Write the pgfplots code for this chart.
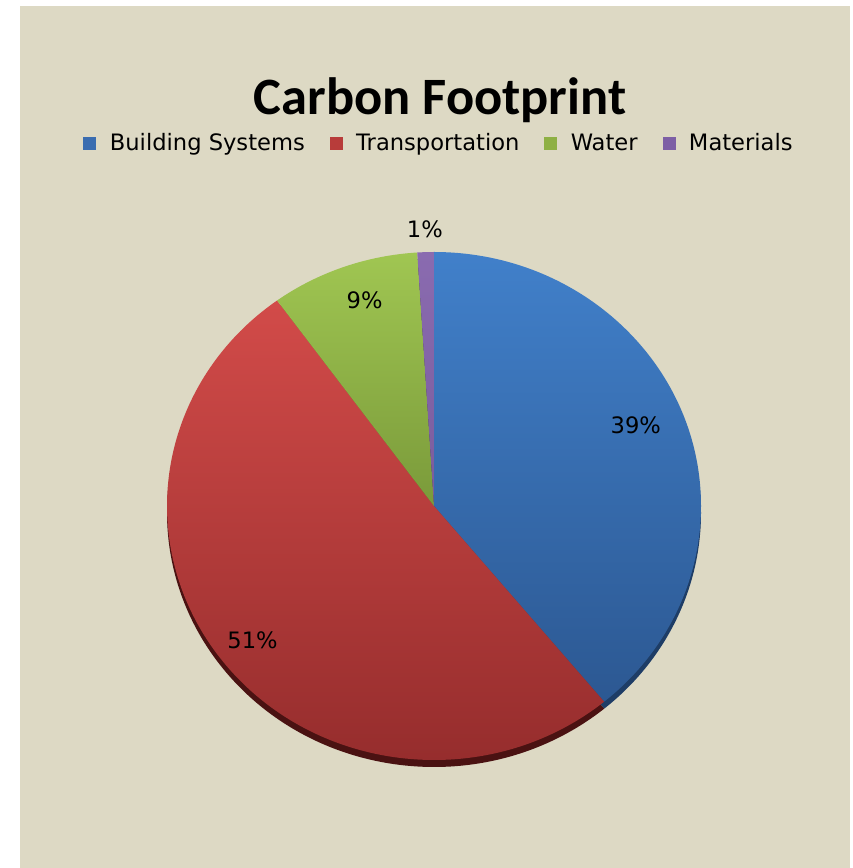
\documentclass[border=0pt]{standalone}
\usepackage{pgfplots}
\pgfplotsset{compat=1.18}
\usepackage{pgfplotstable}
\usepackage{fontspec}
\setmainfont{DejaVu Sans}
\newfontfamily\titlefont{Carlito}
\definecolor{bg}{HTML}{DDD9C4}
\definecolor{bsT}{HTML}{4180CA}
\definecolor{bsB}{HTML}{2C5892}
\definecolor{bsS}{HTML}{1E3D66}
\definecolor{bsM}{HTML}{3A6DB0}
\definecolor{trT}{HTML}{D24B49}
\definecolor{trB}{HTML}{922B2B}
\definecolor{trS}{HTML}{4A1212}
\definecolor{trM}{HTML}{B83C3A}
\definecolor{waT}{HTML}{A0C652}
\definecolor{waB}{HTML}{7A9A3A}
\definecolor{waS}{HTML}{4A5E22}
\definecolor{waM}{HTML}{8EB044}
\definecolor{maT}{HTML}{8A6BB0}
\definecolor{maB}{HTML}{7A5C9C}
\definecolor{maS}{HTML}{45325C}
\definecolor{maM}{HTML}{7D5FA5}
\tikzset{pielabel/.style={font=\fontsize{22.6}{26}\selectfont,anchor=center,inner sep=0pt}}

% share (%), top colour, bottom colour, side colour, label radius factor, label angle shift
\pgfplotstableread{
pct top bot side lr la
39 bsT bsB bsS 0.82 3
51 trT trB trS 0.86 0
9  waT waB waS 0.85 -2
1  maT maB maS 1.09 0
}\data

\begin{document}
\begin{tikzpicture}
\begin{axis}[width=852pt,height=868pt,scale only axis,
  xmin=0,xmax=852,ymin=0,ymax=868,hide axis,clip=false,
  legend columns=4,
  legend image code/.code={\fill[#1] (0pt,-6pt) rectangle (12pt,6pt);},
  legend style={draw=none,fill=none,font=\fontsize{22.6}{26}\selectfont,
    at={(0.5153,0.8353)},anchor=center,inner sep=0pt,
    /tikz/every even column/.append style={column sep=23pt},
    /tikz/every odd column/.append style={column sep=12pt}},
]
\fill[white] (axis cs:0,0) rectangle (axis cs:852,868);
\fill[bg] (axis cs:20,0) rectangle (axis cs:850,862);

\pgfplotstablegetrowsof{\data}
\pgfmathtruncatemacro{\nrows}{\pgfplotsretval-1}
\def\cx{434}\def\cy{362}\def\rx{267}\def\ry{254}
\pgfmathsetmacro{\cyb}{\cy-7}

% side (3D edge) of the pie
\def\angA{90}
\pgfplotsforeachungrouped \i in {0,...,\nrows}{%
  \pgfplotstablegetelem{\i}{pct}\of\data \let\pctv\pgfplotsretval
  \pgfplotstablegetelem{\i}{side}\of\data \let\colS\pgfplotsretval
  \pgfmathsetmacro{\angB}{\angA-3.6*\pctv}
  \pgfmathsetmacro{\sx}{\cx+\rx*cos(\angA)}
  \pgfmathsetmacro{\sy}{\cyb+\ry*sin(\angA)}
  \edef\temp{\noexpand\fill[\colS] (axis cs:\cx,\cyb) -- (axis cs:\sx,\sy)
    arc[start angle=\angA, end angle=\angB, x radius=\rx pt, y radius=\ry pt] -- cycle;}%
  \temp
  \global\let\angA\angB
}

% top faces and labels
\def\angA{90}
\pgfplotsforeachungrouped \i in {0,...,\nrows}{%
  \pgfplotstablegetelem{\i}{pct}\of\data \let\pctv\pgfplotsretval
  \pgfplotstablegetelem{\i}{top}\of\data \let\colT\pgfplotsretval
  \pgfplotstablegetelem{\i}{bot}\of\data \let\colB\pgfplotsretval
  \pgfplotstablegetelem{\i}{lr}\of\data \let\lrv\pgfplotsretval
  \pgfplotstablegetelem{\i}{la}\of\data \let\lav\pgfplotsretval
  \pgfmathsetmacro{\angB}{\angA-3.6*\pctv}
  \pgfmathsetmacro{\angM}{(\angA+\angB)/2+\lav}
  \pgfmathsetmacro{\sx}{\cx+\rx*cos(\angA)}
  \pgfmathsetmacro{\sy}{\cy+\ry*sin(\angA)}
  \pgfmathsetmacro{\lx}{\cx+\lrv*\rx*cos(\angM)}
  \pgfmathsetmacro{\ly}{\cy+\lrv*\ry*sin(\angM)}
  \edef\temp{\noexpand\shade[top color=\colT, bottom color=\colB] (axis cs:\cx,\cy) -- (axis cs:\sx,\sy)
    arc[start angle=\angA, end angle=\angB, x radius=\rx pt, y radius=\ry pt] -- cycle;
    \noexpand\node[pielabel] at (axis cs:\lx,\ly) {\pctv\%};}%
  \temp
  \global\let\angA\angB
}

\node[font=\titlefont\bfseries\fontsize{52.5}{60}\selectfont,anchor=base,inner sep=0pt]
  at (axis cs:440,753) {Carbon Footprint};

\addlegendimage{bsM}\addlegendentry{Building Systems}
\addlegendimage{trM}\addlegendentry{Transportation}
\addlegendimage{waM}\addlegendentry{Water}
\addlegendimage{maM}\addlegendentry{Materials}
\end{axis}
\end{tikzpicture}
\end{document}
